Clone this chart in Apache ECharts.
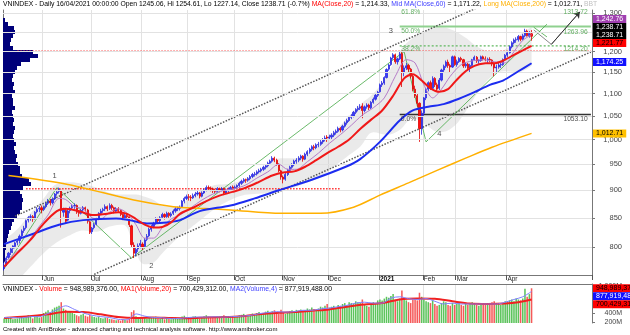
<!DOCTYPE html>
<html>
<head>
<meta charset="utf-8">
<script src="https://cdn.jsdelivr.net/npm/echarts@6.0.0/dist/echarts.min.js"></script>
<style>html,body{margin:0;padding:0;background:#fff;}#chart{width:630px;height:335px;}</style>
</head>
<body>
<div id="chart"></div>
<script>
const FONT = '"Liberation Sans", Arial, sans-serif';

// ---------- daily price rows [open, high, low, close] ----------
const may2020 = [[765,774,762,770],[771,785,769,782],[783,792,780,790],[791,799,787,797],[798,803,790,802],[801,809,798,807],[808,813,803,810],[811,821,806,818],[819,830,816,827],[828,836,824,832],[833,847,830,845],[846,853,842,850],[851,856,845,852],[852,855,843,848],[849,862,847,860],[861,869,858,865],[866,871,860,867],[868,872,858,864]];
const jun2020 = [[865,872,862,869],[870,878,867,875],[876,884,873,879],[880,884,872,877],[877,887,874,883],[884,895,882,893],[894,900,890,897],[898,905,894,901],[900,901,833,863],[860,868,852,865],[863,866,840,844],[846,864,844,862],[863,870,858,867],[868,874,865,870],[871,876,866,872],[872,874,857,860],[860,863,852,858],[858,866,856,863],[864,871,861,868],[868,870,861,866],[864,866,840,844],[843,845,822,825]];
const jul2020 = [[826,834,822,832],[833,841,830,838],[839,850,837,848],[849,860,846,858],[858,866,855,862],[863,868,859,865],[866,874,862,870],[870,872,862,866],[867,876,864,872],[872,875,864,868],[868,870,858,862],[862,869,859,866],[866,869,860,863],[863,865,853,856],[856,858,846,850],[850,857,847,854],[854,858,849,852],[852,854,834,838],[836,838,800,804],[803,808,782,790],[790,800,785,796],[797,806,792,802],[803,812,798,806]];
const aug2020 = [[805,808,795,800],[801,815,799,812],[813,822,810,818],[819,833,817,830],[830,838,826,834],[835,843,832,840],[841,851,838,848],[848,850,840,845],[845,853,842,850],[851,859,848,856],[856,858,847,852],[852,861,850,858],[858,860,850,854],[854,860,851,857],[858,865,855,862],[862,869,859,866],[866,870,862,867],[867,872,863,869],[870,882,868,880],[880,888,876,885],[885,892,882,888]];
const sep2020 = [[888,893,881,887],[887,891,880,886],[886,894,884,890],[890,897,887,893],[893,899,890,895],[895,897,885,889],[889,898,887,895],[895,903,893,900],[900,909,898,905],[905,909,900,904],[904,907,898,902],[902,905,895,899],[899,903,894,898],[898,906,896,903],[903,905,896,900],[900,906,898,903],[903,905,891,895],[895,902,893,899],[899,905,896,901],[901,908,899,905],[906,909,901,904]];
const oct2020 = [[905,909,902,906],[906,911,903,909],[909,916,906,913],[913,920,910,917],[917,923,914,920],[920,922,914,919],[919,925,916,922],[922,929,919,926],[926,933,923,930],[930,935,926,931],[931,938,928,935],[935,941,932,937],[937,943,934,940],[940,947,937,944],[944,950,940,947],[947,955,944,952],[952,959,949,956],[956,966,953,962],[962,965,954,958],[958,961,947,950],[950,952,934,937],[937,939,920,925]];
const nov2020 = [[925,928,913,921],[921,933,918,930],[930,941,927,938],[938,947,935,944],[944,952,941,949],[949,959,946,956],[956,962,951,958],[958,966,954,962],[962,969,958,966],[966,968,955,960],[960,973,958,970],[970,978,966,975],[975,983,971,980],[980,988,976,985],[985,989,978,983],[983,992,980,989],[989,995,984,990],[990,999,987,995],[995,1003,991,1000],[1000,1008,996,1003],[1005,1009,995,1003]];
const dec2020 = [[1003,1010,999,1005],[1005,1013,1001,1009],[1009,1018,1005,1014],[1014,1021,1010,1017],[1017,1027,1014,1023],[1023,1026,1015,1020],[1020,1031,1017,1028],[1028,1038,1025,1035],[1035,1044,1031,1040],[1040,1050,1037,1047],[1047,1054,1043,1050],[1050,1061,1047,1058],[1058,1067,1054,1064],[1064,1072,1060,1067],[1067,1076,1063,1070],[1072,1078,1045,1062],[1062,1073,1058,1070],[1070,1078,1066,1074],[1074,1077,1063,1068],[1068,1083,1065,1080],[1080,1091,1077,1087],[1087,1099,1084,1096],[1096,1106,1092,1103]];
const jan2021 = [[1104,1123,1102,1120],[1120,1129,1115,1124],[1124,1140,1120,1137],[1137,1159,1135,1156],[1157,1170,1153,1167],[1168,1187,1165,1184],[1185,1196,1180,1192],[1192,1195,1170,1175],[1175,1185,1168,1182],[1182,1200,1179,1194],[1195,1200,1115,1150],[1150,1166,1140,1160],[1160,1172,1155,1165],[1166,1170,1150,1157],[1157,1160,1135,1140],[1140,1143,1105,1110],[1110,1118,1090,1095],[1095,1100,1070,1078],[1078,1080,995,1023],[1023,1062,1010,1056]];
const feb2021 = [[1056,1092,1050,1090],[1090,1113,1085,1110],[1110,1128,1105,1125],[1125,1130,1108,1112],[1112,1140,1110,1135],[1135,1138,1115,1120],[1120,1125,1105,1110],[1112,1136,1108,1131],[1131,1158,1128,1155],[1155,1168,1150,1164],[1164,1178,1160,1174],[1174,1180,1160,1166],[1166,1170,1150,1162],[1162,1190,1160,1187],[1187,1190,1165,1168]];
const mar2021 = [[1168,1180,1163,1175],[1175,1186,1172,1183],[1183,1187,1175,1180],[1180,1182,1160,1165],[1165,1173,1160,1169],[1169,1172,1155,1160],[1160,1170,1150,1166],[1166,1182,1163,1180],[1180,1190,1177,1186],[1186,1189,1172,1177],[1177,1181,1170,1178],[1178,1190,1175,1187],[1187,1190,1178,1182],[1182,1188,1176,1180],[1180,1185,1172,1181],[1181,1186,1174,1179],[1179,1181,1164,1170],[1170,1173,1140,1160],[1160,1168,1150,1162],[1162,1172,1158,1167],[1167,1175,1160,1168],[1168,1183,1165,1180],[1180,1194,1177,1191]];
const apr2021 = [[1191,1200,1186,1197],[1197,1215,1195,1212],[1212,1226,1208,1222],[1222,1233,1218,1229],[1229,1236,1222,1230],[1230,1242,1225,1238],[1238,1240,1226,1231],[1231,1245,1228,1240],[1240,1258,1236,1252],[1252,1256,1238,1240],[1240,1252,1235,1246],[1245.06,1254.61,1227.14,1238.71]];

// ---------- daily volume (millions of shares) ----------
const volMay2020 = [280,300,310,290,260,270,280,300,320,290,330,350,320,280,320,340,300,310];
const volJun2020 = [400,430,460,420,480,520,540,560,640,500,470,430,420,400,380,350,330,360,380,340,320,360];
const volJul2020 = [330,310,300,320,290,280,300,290,270,260,250,240,250,230,260,250,240,270,420,460,330,300,280];
const volAug2020 = [290,300,280,310,300,290,320,280,270,300,260,280,270,260,280,300,290,270,320,340,310];
const volSep2020 = [300,290,320,330,310,280,300,330,350,320,310,290,300,320,310,330,350,320,300,330,310];
const volOct2020 = [320,330,350,360,380,340,330,360,390,370,400,420,380,400,430,450,420,440,460,420,380,470];
const volNov2020 = [400,380,420,440,460,430,470,450,480,420,460,500,480,520,490,460,500,540,520,560,600];
const volDec2020 = [520,540,560,500,580,560,600,620,580,640,620,600,660,640,620,700,580,560,540,600,640,620,680];
const volJan2021 = [700,680,720,760,740,780,820,700,660,720,900,720,680,640,620,700,720,680,850,760];
const volFeb2021 = [700,660,640,620,680,600,560,580,620,660,640,580,560,620,580];
const volMar2021 = [600,620,580,560,600,580,620,640,600,580,560,620,600,580,620,600,640,660,620,600,580,620,660];
const volApr2021 = [640,680,700,660,720,700,680,720,940,760,820,948.989];

// ---------- indicator lines: [barIndex, value] ----------
const ma20Line = [[0,768],[6,790],[12,812],[18,840],[24,862],[28,866],[34,862],[40,855],[46,857],[52,860],[56,857],[60,848],[64,838],[68,833],[72,834],[76,842],[80,857],[86,868],[92,880],[98,890],[104,897],[110,905],[116,916],[122,928],[127,934],[132,936],[137,945],[142,958],[147,972],[152,985],[157,1000],[162,1022],[167,1042],[172,1062],[177,1095],[182,1135],[186,1145],[190,1130],[194,1112],[198,1104],[202,1110],[206,1132],[210,1152],[214,1165],[219,1171],[224,1172],[228,1180],[232,1192],[236,1203],[240,1214.33]];
const ma60Line = [[0,805],[13,822],[25,838],[36,846],[51,849],[57,846],[65,840],[74,842],[80,846],[89,862],[103,872],[114,885],[125,900],[140,920],[156,946],[162,960],[171,995],[180,1040],[186,1062],[193,1070],[200,1076],[207,1088],[214,1103],[221,1120],[227,1130],[234,1152],[240,1171.22]];
const ma200Line = [[2,928],[29,911],[59,882],[77,870],[89,867],[103,864],[126,858],[144,858],[159,869],[171,891],[184,914],[197,938],[210,962],[222,984],[240,1012.71]];
const ma10Line = [[0,775],[5,790],[10,805],[15,830],[20,855],[25,885],[28,883],[32,870],[36,866],[40,850],[44,848],[48,860],[52,866],[56,858],[60,838],[64,815],[68,815],[72,833],[76,848],[80,855],[85,868],[90,882],[95,893],[100,900],[105,903],[110,910],[115,923],[120,935],[125,950],[129,940],[133,940],[138,955],[143,972],[148,992],[153,1010],[158,1030],[163,1052],[168,1068],[173,1090],[178,1140],[183,1180],[187,1172],[191,1120],[195,1090],[199,1110],[203,1140],[208,1168],[213,1177],[218,1180],[223,1175],[228,1172],[232,1200],[236,1228],[240,1242.76]];
const bandX     = [0,6,12,18,24,30,36,42,48,54,60,64,68,72,78,84,90,96,102,108,114,120,126,132,138,144,150,156,162,168,174,180,186,192,198,204,210,216,222,228,234,240];
const bandUpper = [812,830,858,885,912,915,912,905,895,892,892,888,882,872,870,885,900,910,912,918,932,950,962,962,972,995,1015,1045,1075,1100,1140,1200,1235,1252,1262,1255,1235,1210,1200,1205,1240,1262];
const bandLower = [722,745,768,790,808,820,828,826,835,838,790,772,775,790,812,830,848,866,880,890,893,895,900,905,915,925,945,965,985,1015,1010,1020,1045,1030,1015,1025,1060,1105,1140,1152,1150,1165];
const volMa20Line = [[0,290],[10,320],[20,370],[28,430],[36,420],[44,370],[52,310],[60,290],[68,300],[76,290],[84,285],[92,300],[100,310],[108,330],[116,370],[124,400],[132,420],[140,450],[148,480],[156,540],[164,590],[172,620],[180,700],[188,720],[196,715],[204,660],[212,610],[220,600],[228,610],[234,640],[240,700.429]];
const volMa4Line = [[0,300],[4,300],[8,290],[12,320],[16,320],[20,390],[24,470],[28,560],[32,480],[36,400],[40,350],[44,320],[48,300],[52,260],[56,250],[60,380],[64,330],[68,300],[72,295],[76,275],[80,280],[84,300],[88,310],[92,310],[96,315],[100,310],[104,320],[108,330],[112,345],[116,385],[120,410],[124,430],[128,420],[132,430],[136,460],[140,460],[144,490],[148,510],[152,540],[156,570],[160,620],[164,640],[168,620],[172,620],[176,730],[180,760],[184,720],[188,700],[192,720],[196,660],[200,600],[204,620],[208,600],[212,600],[216,600],[220,600],[224,600],[228,640],[232,700],[236,760],[240,877.919]];

// ---------- drawings ----------
const zigzag = [[0,765],[24,905],[58,782],[182,1200],[192,995],[247,1270]];
const zigzagTail = [[241,1262],[247,1237]];
const channelUpper = [[5,853],[217,1319]];
const channelLower = [[41,756],[267,1199]];
const projection = [[241,1255],[249,1218],[262,1303]];
const redLevelHigh = [[6,1201],[267,1201]];
const redLevelLow = [[10,903],[153,903]];
const fibStart = 180, fibEnd = 267;
const fib50 = 1263.96, fib382 = 1214.20, fib0 = 1053.10;
const waveNames = ['1','2','3','4'];
const waveX = [23, 67, 176, 198];
const waveY = [927, 770, 1252, 1011];
const fibTextNames = ['61.8%','50.0%','38.2%','0.0%','1313.72','1263.96','1214.20','1053.10'];
const fibTextX = [185,185,185,184,260,260,260,260];
const fibTextY = [1303,1252,1207,1043,1303,1250,1207,1043];
const fibTextColor = ['#3c9c3c','#3c9c3c','#3c9c3c','#222','#3c9c3c','#3c9c3c','#3c9c3c','#222'];

// ---------- volume profile (left histogram, top -> bottom) ----------
const profileBins = [0,0,2,5,11,12,10,8,7,10,30,35,27,18,14,12,10,9,11,10,12,9,10,10,12,9,10,11,10,12,11,10,11,13,11,12,14,13,15,17,17,19,26,28,20,17,19,20,19,19,17,14,11,9,8,6,5,4,3,3,2,2,2,1,1,0];

const priceTicks = [800,850,900,950,1000,1050,1100,1150,1200,1250,1300];
const volumeTicks = [200,400,600,800,1000];
const monthNames = ['Jan','Feb','Mar','Apr','May','Jun','Jul','Aug','Sep','Oct','Nov','Dec'];

// ---------- build ----------
const rows = [].concat(may2020,jun2020,jul2020,aug2020,sep2020,oct2020,nov2020,dec2020,jan2021,feb2021,mar2021,apr2021);
const vols = [].concat(volMay2020,volJun2020,volJul2020,volAug2020,volSep2020,volOct2020,volNov2020,volDec2020,volJan2021,volFeb2021,volMar2021,volApr2021);
const N = rows.length;
const BLANK = 27;
const holidays = new Set(['2020-09-02','2021-01-01','2021-02-10','2021-02-11','2021-02-12','2021-02-15','2021-02-16']);
const dates = [];
(function(){
  const d = new Date(Date.UTC(2020,4,6));
  while (dates.length < N) {
    const wd = d.getUTCDay(); const s = d.toISOString().slice(0,10);
    if (wd !== 0 && wd !== 6 && !holidays.has(s)) dates.push(s);
    d.setUTCDate(d.getUTCDate()+1);
  }
  for (let i=0;i<BLANK;i++) dates.push('');
})();
const monthStart = new Set();
for (let i=1;i<dates.length;i++) if (dates[i] && dates[i].slice(5,7) !== dates[i-1].slice(5,7)) monthStart.add(i);
const isMS = (idx) => monthStart.has(idx);

const candles = rows.map(r => [r[0], r[3], r[2], r[1]]);
const volData = vols.map((v,i) => ({value: v, itemStyle: {color: rows[i][3] >= rows[i][0] ? '#5cc45c' : '#f55a5a'}}));
const bandDiff = bandX.map((x,i) => [x, bandUpper[i]-bandLower[i]]);
const bandLow = bandX.map((x,i) => [x, bandLower[i]]);

const lineS = (data, color, width, extra) => Object.assign({type:'line', data, xAxisIndex:0, yAxisIndex:0, symbol:'none', showSymbol:false, silent:true, lineStyle:{color, width}, z:3}, extra||{});

const chart = echarts.init(document.getElementById('chart'), null, {renderer:'canvas'});
const txt = (c, s) => ({color:c, fontSize:s||6.8, fontFamily:FONT});

const option = {
  animation: false,
  backgroundColor: '#fff',
  title: [
    {left:3, top:1, padding:0, text:'{k|VNINDEX - Daily 16/04/2021 00:00:00 Open 1245.06, Hi 1254.61, Lo 1227.14, Close 1238.71 (-0.7%) }{r|MA(Close,20)}{k| = 1,214.33, }{b|Mid MA(Close,60)}{k| = 1,171.22, }{o|Long MA(Close,200)}{k| = 1,012.71, }{g|BBT}',
     textStyle:{fontSize:6.8, fontWeight:'normal', fontFamily:FONT, rich:{k:txt('#000'), r:txt('#ff0000'), b:txt('#4040ff'), o:txt('#ffb000'), g:txt('#c0c0c0')}}},
    {left:3, top:286, padding:0, text:'{k|VNINDEX - }{r|Volume}{k| = 948,989,376.00, }{r|MA1(Volume,20)}{k| = 700,429,312.00, }{b|MA2(Volume,4)}{k| = 877,919,488.00}',
     textStyle:{fontSize:6.8, fontWeight:'normal', fontFamily:FONT, rich:{k:txt('#000'), r:txt('#ff0000'), b:txt('#4040ff')}}},
    {left:3, top:326, padding:0, text:'Created with AmiBroker - advanced charting and technical analysis software. http://www.amibroker.com',
     textStyle:{fontSize:6, fontWeight:'normal', fontFamily:FONT, color:'#000'}}
  ],
  grid: [
    {left:3, right:38, top:10, bottom:60},
    {left:3, right:38, top:284, bottom:12},
    {left:3, right:38, top:10, height:264}
  ],
  xAxis: [
    {type:'category', gridIndex:0, data:dates, boundaryGap:true,
     axisLine:{show:true, lineStyle:{color:'#777', width:1}},
     axisTick:{show:true, interval:isMS, length:5, lineStyle:{color:'#555'}},
     axisLabel:{show:true, interval:isMS, align:'left', margin:1, fontSize:6.5, color:'#222', fontFamily:FONT,
       formatter:(v) => { if (!v) return ''; const m = +v.slice(5,7); return m===1 ? '{y|'+v.slice(0,4)+'}' : monthNames[m-1]; },
       rich:{y:{fontWeight:'bold', fontSize:6.5, fontFamily:FONT, color:'#000'}}},
     splitLine:{show:true, interval:isMS, lineStyle:{color:'#e2e2e2', width:1}}},
    {type:'category', gridIndex:1, data:dates, boundaryGap:true, position:'top',
     axisLine:{show:true, lineStyle:{color:'#777'}}, axisTick:{show:false}, axisLabel:{show:false},
     splitLine:{show:true, interval:isMS, lineStyle:{color:'#e2e2e2'}}},
    {type:'value', gridIndex:2, min:0, max:589, show:false}
  ],
  yAxis: [
    {type:'log', logBase:10, gridIndex:0, position:'right', min:755, max:1308,
     axisLine:{show:true, lineStyle:{color:'#777'}},
     axisTick:{show:true, customValues:priceTicks, length:3, lineStyle:{color:'#777'}},
     axisLabel:{show:true, customValues:priceTicks, align:'right', margin:30, fontSize:7.5, color:'#444', fontFamily:FONT,
       formatter:(v) => Number(v).toLocaleString('en-US')},
     splitLine:{show:false}},
    {type:'value', gridIndex:1, position:'right', min:178, max:1044,
     axisLine:{show:true, lineStyle:{color:'#777'}},
     axisTick:{show:true, customValues:volumeTicks, length:3, lineStyle:{color:'#777'}},
     axisLabel:{show:true, customValues:volumeTicks, align:'right', margin:30, fontSize:7, color:'#444', fontFamily:FONT,
       formatter:(v) => (v>=1000 ? '1,000' : v) + 'M'},
     splitLine:{show:false}},
    {type:'category', gridIndex:2, data:profileBins.map((_,i)=>i), inverse:true, show:false},
    {type:'value', gridIndex:0, position:'left', min:0, max:1, axisLine:{show:true, lineStyle:{color:'#777'}}, axisTick:{show:false}, axisLabel:{show:false}, splitLine:{show:false}}
  ],
  series: [
    {type:'line', xAxisIndex:0, yAxisIndex:0, data:[], silent:true, z:0,
     markLine:{silent:true, symbol:'none', label:{show:false}, lineStyle:{color:'#e2e2e2', width:1, type:'solid'}, data: priceTicks.map(v => ({yAxis:v}))}},
    {type:'bar', xAxisIndex:2, yAxisIndex:2, data:profileBins, barGap:'0%', barCategoryGap:'0%', itemStyle:{color:'#00007a', borderWidth:0}, silent:true, z:1},
    lineS(bandLow, '#cfcfcf', 0, {stack:'bb', smooth:0.4, lineStyle:{width:0, opacity:0}, z:1}),
    lineS(bandDiff, '#cfcfcf', 0, {stack:'bb', smooth:0.4, lineStyle:{width:0, opacity:0}, areaStyle:{color:'rgba(200,200,200,0.55)'}, z:1}),
    lineS(redLevelHigh, '#ff3030', 1.5, {lineStyle:{color:'#ff3030', width:1.5, type:[1.5,1.5]}}),
    lineS(redLevelLow, '#ff3030', 1.5, {lineStyle:{color:'#ff3030', width:1.5, type:[1.5,1.5]}}),
    lineS([[fibStart,fib50],[fibEnd,fib50]], '#8fd18f', 2),
    lineS([[fibStart,fib382],[fibEnd,fib382]], '#5fb85f', 1.2, {lineStyle:{color:'#5fb85f', width:1.2, type:[2,2]}}),
    lineS([[fibStart,fib0],[fibEnd,fib0]], '#333', 1.5),
    lineS(channelUpper, '#555', 1.5, {lineStyle:{color:'#555', width:1.5, type:[1.5,1.5]}}),
    lineS(channelLower, '#555', 1.5, {lineStyle:{color:'#555', width:1.5, type:[1.5,1.5]}}),
    lineS(zigzag, '#45a845', 0.8),
    lineS(zigzagTail, '#45a845', 0.8),
    lineS(projection, '#888', 1, {
      markLine:{silent:true, symbol:['none','arrow'], symbolSize:6, label:{show:false}, lineStyle:{color:'#333', width:1, type:'solid'},
        data:[[{coord:projection[1]},{coord:projection[2]}]]}}),
    {type:'candlestick', xAxisIndex:0, yAxisIndex:0, data:candles, barWidth:'75%', silent:true, z:4,
     itemStyle:{color:'#3a3aff', color0:'#ff1010', borderColor:'#2a2ae0', borderColor0:'#e00000', borderWidth:0.8}},
    lineS(ma10Line, '#b57cc8', 1, {smooth:0.3, z:5}),
    lineS(ma200Line, '#ffb000', 1.5, {smooth:0.3, z:5}),
    lineS(ma60Line, '#1c2cf0', 2, {smooth:0.3, z:5}),
    lineS(ma20Line, '#f01818', 2, {smooth:0.3, z:6}),
    {type:'scatter', xAxisIndex:0, yAxisIndex:0, symbolSize:0, silent:true, z:7, clip:false,
     data: waveNames.map((t,i) => ({value:[waveX[i], waveY[i]], label:{show:true, position:'inside', formatter:t, color:'#222', fontSize:7.5, fontFamily:FONT}}))
       .concat(fibTextNames.map((t,i) => ({value:[fibTextX[i], fibTextY[i]], label:{show:true, position:'inside', formatter:t, color:fibTextColor[i], fontSize:6.7, fontFamily:FONT}})))},
    {type:'bar', xAxisIndex:1, yAxisIndex:1, data:volData, barWidth:'70%', silent:true, z:2},
    {type:'line', xAxisIndex:1, yAxisIndex:1, data:volMa20Line, symbol:'none', smooth:0.3, lineStyle:{color:'#f02020', width:2}, silent:true, z:3},
    {type:'line', xAxisIndex:1, yAxisIndex:1, data:volMa4Line, symbol:'none', smooth:0.3, lineStyle:{color:'#8080ff', width:1}, silent:true, z:3}
  ]
};
chart.setOption(option);

const priceTags = [
  {t:'1,242.76', v:1242.76, bg:'#a040b0', fg:'#fff'},
  {t:'1,238.71', v:1238.71, bg:'#000', fg:'#fff'},
  {t:'1,238.71', v:1238.71, bg:'#000', fg:'#fff'},
  {t:'1,221.77', v:1221.77, bg:'#ff0000', fg:'#000'},
  {t:'1,174.25', v:1174.25, bg:'#1010ff', fg:'#fff'},
  {t:'1,012.71', v:1012.71, bg:'#ffc000', fg:'#000'}
];
const volTags = [
  {t:'948,989,376', v:948.989, bg:'#ff0000', fg:'#000'},
  {t:'877,919,488', v:877.919, bg:'#1010ff', fg:'#fff'},
  {t:'700,429,312', v:700.429, bg:'#ff0000', fg:'#000'}
];
const graphics = [];
const ys = priceTags.map(p => chart.convertToPixel({yAxisIndex:0}, p.v));
for (let i = ys.length-2; i >= 0; i--) ys[i] = Math.min(ys[i], ys[i+1]-8);
priceTags.forEach((p,i) => graphics.push({type:'text', z:100, style:{x:593, y:ys[i], text:p.t, fill:p.fg, backgroundColor:p.bg, padding:[1,3,0,3], font:'7px '+FONT, verticalAlign:'middle'}}));
const vy = volTags.map(p => chart.convertToPixel({yAxisIndex:1}, p.v));
for (let i = 1; i < vy.length; i++) vy[i] = Math.max(vy[i], vy[i-1]+8);
volTags.forEach((p,i) => graphics.push({type:'text', z:100, style:{x:593, y:vy[i], text:p.t, fill:p.fg, backgroundColor:p.bg, padding:[1,3,0,3], font:'7px '+FONT, verticalAlign:'middle'}}));
chart.setOption({graphic: graphics});
</script>
</body>
</html>
